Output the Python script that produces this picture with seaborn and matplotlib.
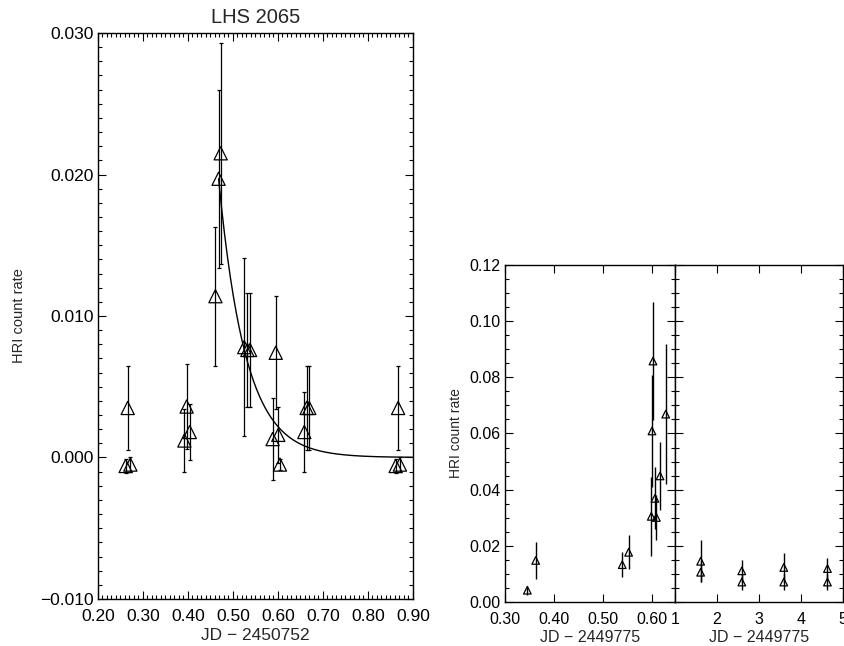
import numpy as np
import pandas as pd
import matplotlib
matplotlib.use('Agg')
import matplotlib.pyplot as plt
from matplotlib.ticker import MultipleLocator, FuncFormatter
import seaborn as sns

# LHS 2065 (JD - 2450752)
lhs_jd = [0.2615, 0.266, 0.272, 0.392, 0.397, 0.404, 0.461, 0.468, 0.4726,
          0.525, 0.532, 0.538, 0.588, 0.595, 0.6007, 0.6044, 0.6585, 0.6637,
          0.6696, 0.8615, 0.867, 0.871]
lhs_rate = [-0.0006, 0.0035, -0.0005, 0.0012, 0.0036, 0.0018, 0.0114, 0.0197,
            0.0215, 0.0078, 0.0076, 0.0076, 0.0013, 0.0074, 0.0016, -0.0005,
            0.0018, 0.0035, 0.0035, -0.0006, 0.0035, -0.0005]
lhs_err = [0.0005, 0.0030, 0.0005, 0.0022, 0.0030, 0.0020, 0.0049, 0.0063,
           0.0078, 0.0063, 0.0040, 0.0040, 0.0029, 0.0040, 0.0020, 0.0004,
           0.0028, 0.0030, 0.0030, 0.0005, 0.0030, 0.0005]

# decay fit
fit_start = 0.468
fit_peak = 0.0197
fit_tau = 0.060
fit_end = 0.90

# second star, first night (JD - 2449775)
n1_jd = [0.3457, 0.3627, 0.5393, 0.5523, 0.5986, 0.600, 0.602, 0.606, 0.609,
         0.6164, 0.628]
n1_rate = [0.0042, 0.0148, 0.0133, 0.0177, 0.0305, 0.0609, 0.0858, 0.0369,
           0.0301, 0.0449, 0.0669]
n1_err = [0.0016, 0.0066, 0.0044, 0.0060, 0.0140, 0.0200, 0.0210, 0.0110,
          0.0080, 0.0120, 0.0250]

# following days
n2_jd = [1.61, 1.61, 2.59, 2.59, 3.59, 3.59, 4.63, 4.63]
n2_rate = [0.0145, 0.0106, 0.0111, 0.0071, 0.0123, 0.0071, 0.0119, 0.0071]
n2_err = [0.0075, 0.0035, 0.0040, 0.0027, 0.0050, 0.0027, 0.0038, 0.0027]

sns.set_style('ticks')
plt.rcParams['font.family'] = ['Liberation Sans', 'DejaVu Sans']
plt.rcParams['axes.linewidth'] = 1.0

fig = plt.figure(figsize=(8.44, 6.46), dpi=100)
ax1 = fig.add_axes([0.1161, 0.0728, 0.3732, 0.8761])
ax2 = fig.add_axes([0.5983, 0.0681, 0.2015, 0.5217])
ax3 = fig.add_axes([0.7998, 0.0681, 0.1990, 0.5217])


def fmt(decimals):
    return FuncFormatter(lambda v, p: f'{v:.{decimals}f}'.replace('-', '\u2212'))


def draw(ax, x, y, err, msize, lw=0.9, capsize=1.5):
    ax.errorbar(x, y, yerr=err, fmt='none', ecolor='black', elinewidth=lw,
                capsize=capsize, capthick=lw)
    sns.scatterplot(x=x, y=y, ax=ax, marker='^', s=msize, facecolors='none',
                    edgecolor='black', linewidth=0.9, zorder=3)


def style(ax, size=12.5):
    ax.tick_params(which='both', direction='in', top=True, right=True,
                   colors='black', labelsize=size, width=0.8)
    ax.tick_params(which='major', length=6)
    ax.tick_params(which='minor', length=3)
    ax.tick_params(axis='x', which='both', pad=7)
    ax.tick_params(axis='y', which='both', pad=3)
    for s in ax.spines.values():
        s.set_color('black')
        s.set_linewidth(1.0)


# left panel
draw(ax1, lhs_jd, lhs_rate, lhs_err, msize=90)
fit = pd.DataFrame({'jd': np.linspace(fit_start, fit_end, 200)})
fit['rate'] = fit_peak * np.exp(-(fit['jd'] - fit_start) / fit_tau)
sns.lineplot(data=fit, x='jd', y='rate', ax=ax1, color='black', linewidth=1.0)
ax1.set_xlim(0.20, 0.90)
ax1.set_ylim(-0.010, 0.030)
ax1.xaxis.set_major_locator(MultipleLocator(0.1))
ax1.xaxis.set_minor_locator(MultipleLocator(0.01))
ax1.yaxis.set_major_locator(MultipleLocator(0.01))
ax1.yaxis.set_minor_locator(MultipleLocator(0.001))
ax1.xaxis.set_major_formatter(fmt(2))
ax1.yaxis.set_major_formatter(fmt(3))
style(ax1)
ax1.set_title('LHS 2065', fontsize=14.5, pad=7)
ax1.set_xlabel('JD \u2212 2450752', fontsize=12.5, labelpad=3)
ax1.set_ylabel('HRI count rate', fontsize=10.5, labelpad=10)

# right panels
draw(ax2, n1_jd, n1_rate, n1_err, msize=30, lw=1.0, capsize=0)
ax2.set_xlim(0.30, 0.647)
ax2.set_ylim(0.0, 0.12)
ax2.xaxis.set_major_locator(MultipleLocator(0.1))
ax2.yaxis.set_major_locator(MultipleLocator(0.02))
ax2.yaxis.set_minor_locator(MultipleLocator(0.005))
ax2.xaxis.set_major_formatter(fmt(2))
ax2.yaxis.set_major_formatter(fmt(2))
style(ax2, 11.5)
ax2.set_xlabel('JD \u2212 2449775', fontsize=11.5, labelpad=2)
ax2.set_ylabel('HRI count rate', fontsize=10, labelpad=5)

draw(ax3, n2_jd, n2_rate, n2_err, msize=30, lw=1.0, capsize=0)
ax3.set_xlim(1, 5)
ax3.set_ylim(0.0, 0.12)
ax3.xaxis.set_major_locator(MultipleLocator(1))
ax3.yaxis.set_major_locator(MultipleLocator(0.02))
ax3.yaxis.set_minor_locator(MultipleLocator(0.005))
ax3.xaxis.set_major_formatter(fmt(0))
style(ax3, 11.5)
ax3.tick_params(labelleft=False)
ax3.set_ylabel('')
ax3.set_xlabel('JD \u2212 2449775', fontsize=11.5, labelpad=2)

fig.savefig('out.png', dpi=100)
